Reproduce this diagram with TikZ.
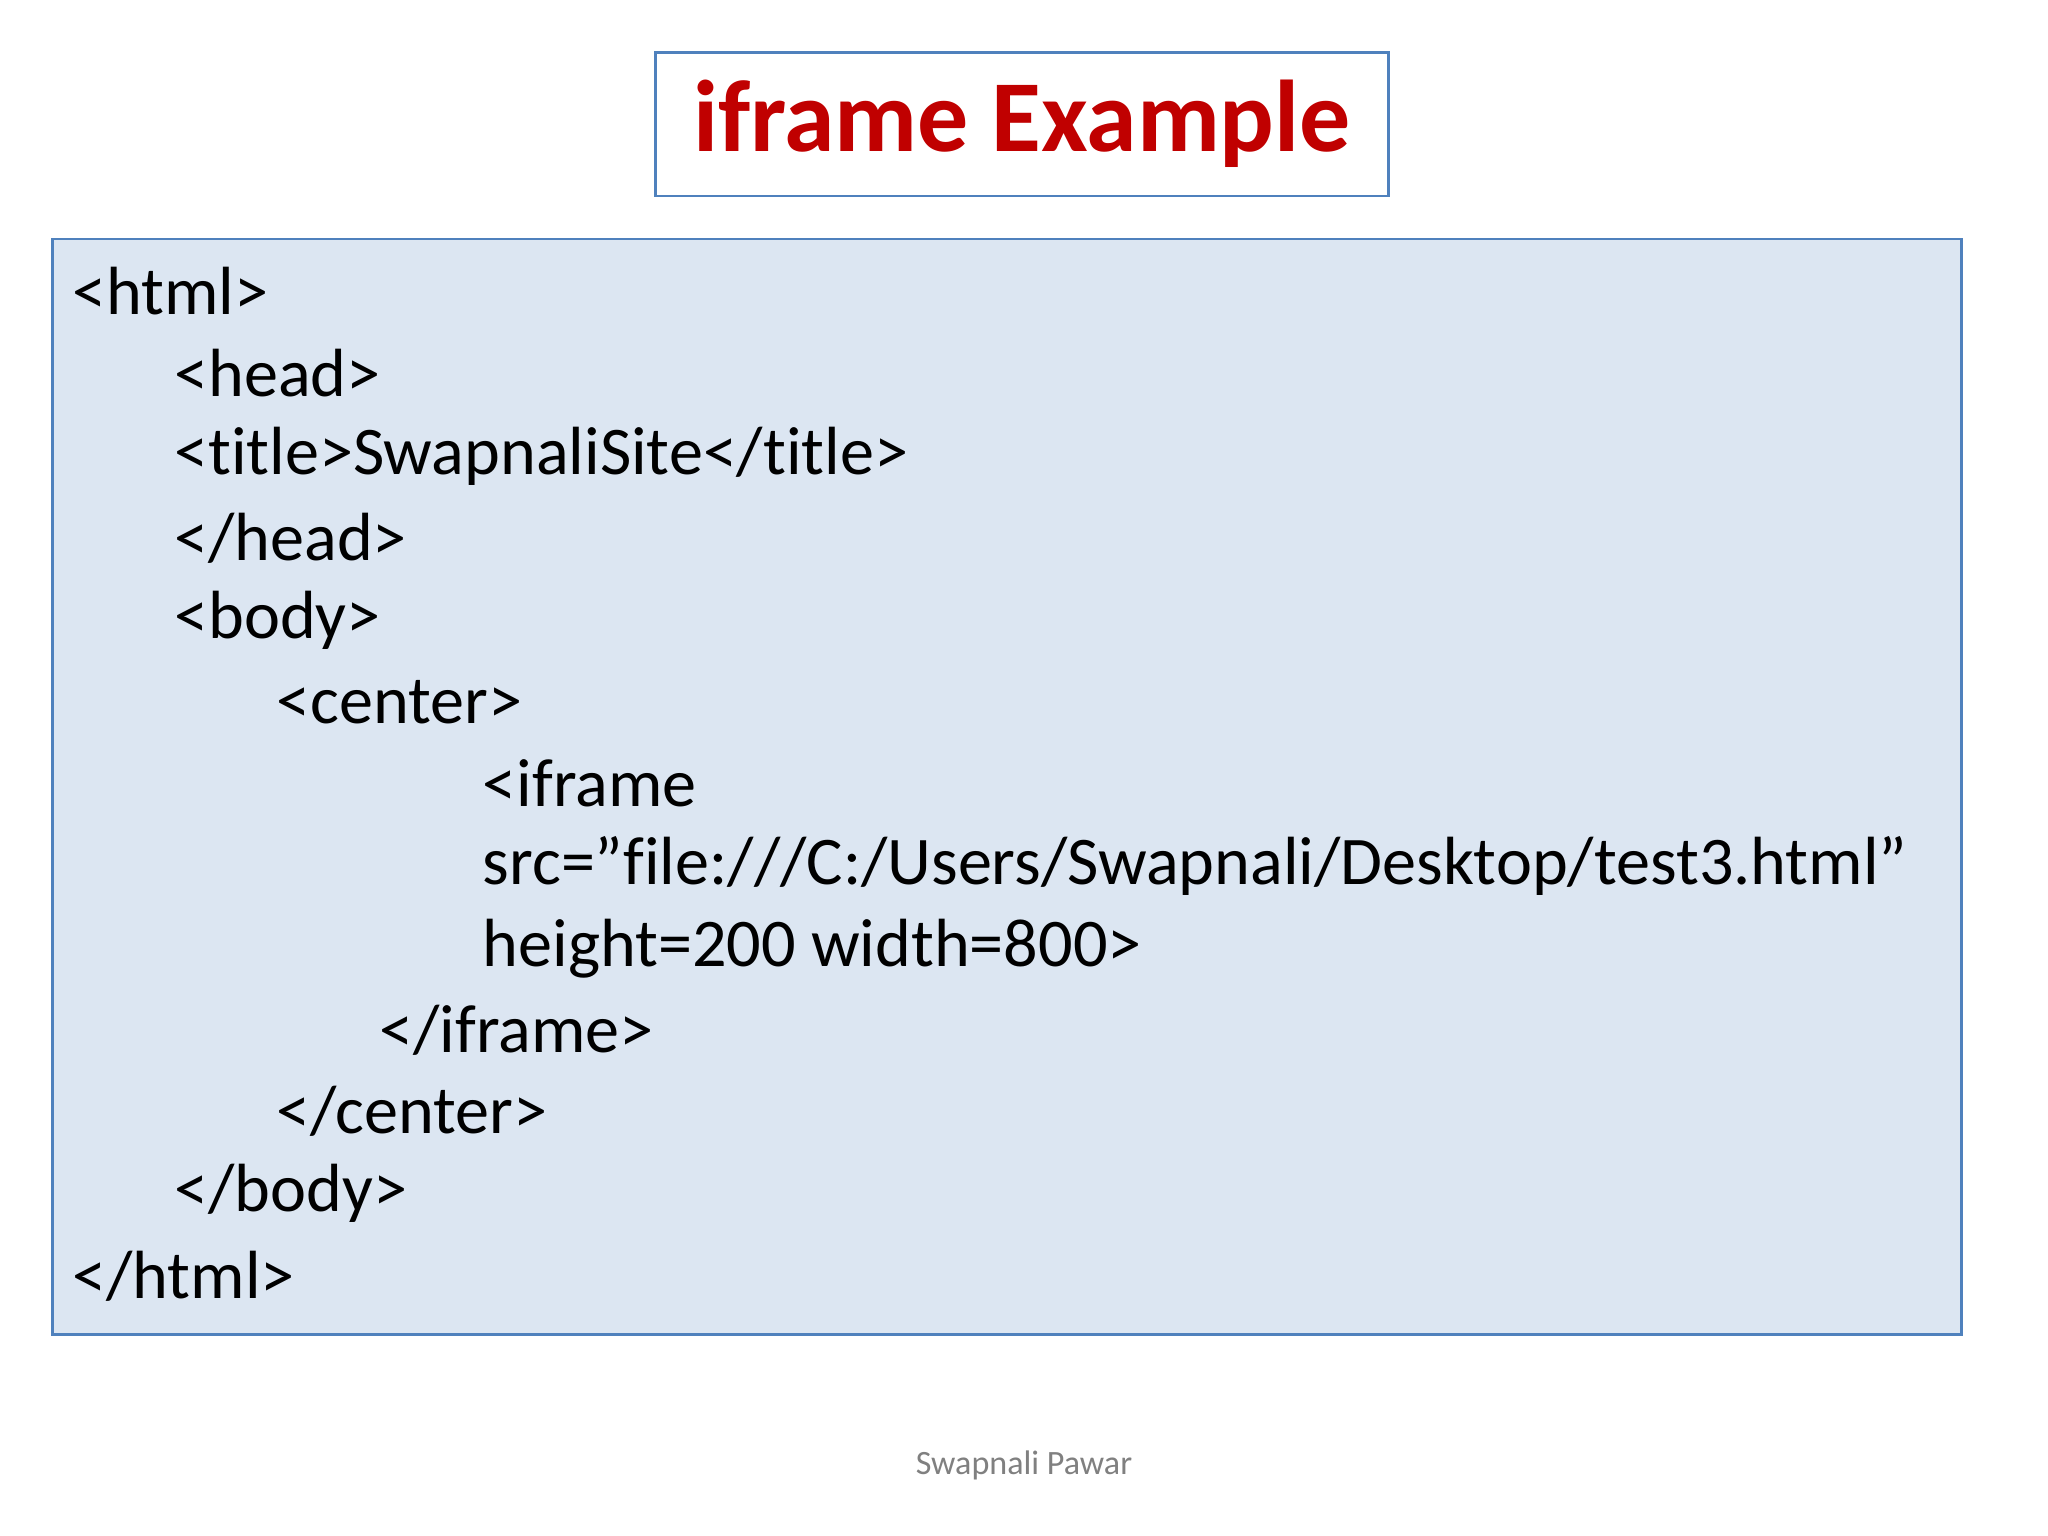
\documentclass[tikz,border=0pt]{standalone}
\usepackage{fontspec}
\setmainfont{Carlito}[Ligatures={ResetAll,NoCommon}]
\definecolor{codefill}{HTML}{DCE6F2}
\definecolor{codeline}{HTML}{4F81BD}
\definecolor{titlered}{HTML}{C00000}
\begin{document}
\begin{tikzpicture}[
        x=0.01306cm, y=-0.01306cm,
        code_line/.style={anchor=west, inner sep=0pt, font=\fontsize{19.4}{19.4}\selectfont},
        title_box/.style={draw=codeline, thick, minimum width=561*0.01306cm, minimum height=110*0.01306cm, text=titlered, font=\fontsize{29}{29}\selectfont\bfseries}
        ]
    \useasboundingbox (0,0) rectangle (1568,1176);
    \node[title_box] (titolo) at (782.5,95) {iframe Example};
    \draw[codeline, fill=codefill, thick] (40,183) rectangle (1502,1022);
    \node[code_line] (l1) at (55,223) {<html>};
    \node[code_line] (l2) at (133,286) {<head>};
    \node[code_line] (l3) at (133,349) {<title>SwapnaliSite</title>};
    \node[code_line] (l4) at (133,412) {</head>};
    \node[code_line] (l5) at (133,475) {<body>};
    \node[code_line] (l6) at (211,538) {<center>};
    \node[code_line] (l7) at (369,600) {<iframe};
    \node[code_line] (l8) at (369,663) {src="file:///C:/Users/Swapnali/Desktop/test3.html"};
    \node[code_line] (l9) at (369,726) {height=200 width=800>};
    \node[code_line] (l10) at (290,789) {</iframe>};
    \node[code_line] (l11) at (211,851) {</center>};
    \node[code_line] (l12) at (133,914) {</body>};
    \node[code_line] (l13) at (55,977) {</html>};
    \node[text=gray, font=\fontsize{9.7}{9.7}\selectfont] (autore) at (784,1122) {Swapnali Pawar};
\end{tikzpicture}
\end{document}
